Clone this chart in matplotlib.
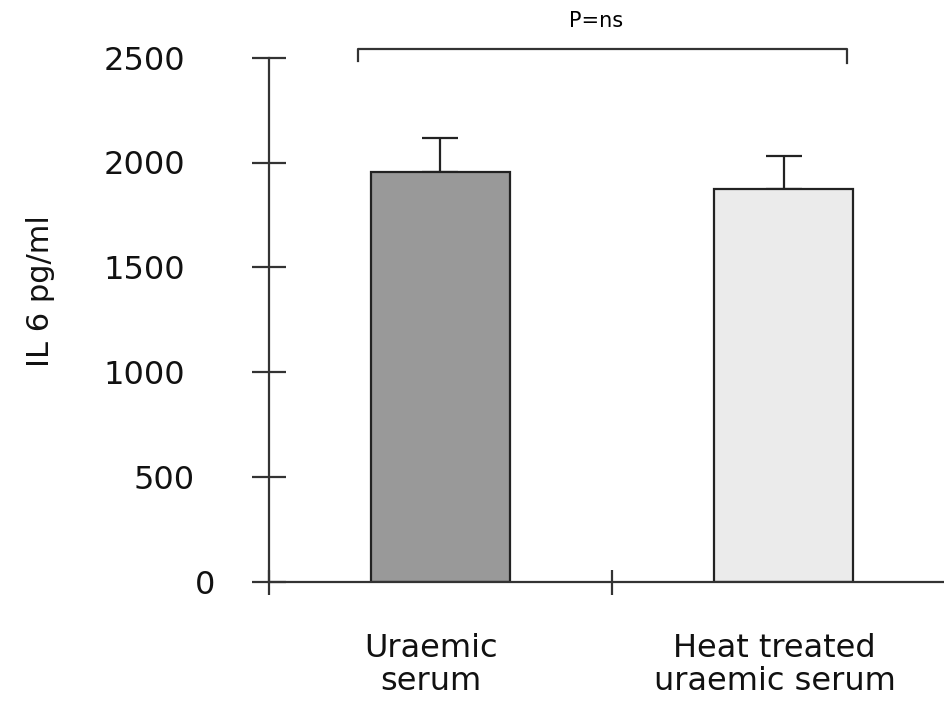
import matplotlib
matplotlib.use("Agg")
import matplotlib.pyplot as plt
from matplotlib.transforms import ScaledTranslation

# ---- data ----
categories = ["Uraemic\nserum", "Heat treated\nuraemic serum"]
means = [1956, 1872]
sems = [162, 160]
bar_colors = ["#999999", "#ebebeb"]
y_ticks = [0, 500, 1000, 1500, 2000, 2500]
y_tick_labels = ["0", "500", "1000", "1500", "2000", "2500"]
sig_label = "P=ns"
bracket_y = 2540
bracket_x = [0.26, 1.685]
bracket_ends = [2485, 2477]
ylabel = "IL 6 pg/ml"

plt.rcParams["font.family"] = ["DejaVu Sans"]

fig = plt.figure(figsize=(9.44, 7.04), dpi=100)
ax = fig.add_axes([268.75 / 944, 122.3 / 704, (944 - 268.75) / 944, (581.7 - 57.7) / 704])

positions = [0.5, 1.5]
line_c = "#222222"
ax.bar(positions, means, width=0.405, color=bar_colors, edgecolor=line_c,
       linewidth=1.6, zorder=2)
ax.errorbar(positions, means, yerr=[[0, 0], sems], fmt="none", ecolor=line_c,
            elinewidth=1.6, capsize=13.3, capthick=1.6, zorder=1)

ax.set_xlim(0, (944 - 268.75) / 343.25)
ax.set_ylim(0, 2500)

for s in ["top", "right"]:
    ax.spines[s].set_visible(False)
for s in ["left", "bottom"]:
    ax.spines[s].set_linewidth(1.6)
    ax.spines[s].set_color("#333333")

# y ticks
ax.set_yticks(y_ticks)
ax.set_yticklabels(y_tick_labels, fontsize=23, color="#111111")
ax.tick_params(axis="y", direction="inout", length=24.5, width=1.6, color="#333333", pad=48)
# quirky label positions of the original
offsets_px = {"0": 30, "500": 10}
for lab in ax.get_yticklabels():
    dx = offsets_px.get(lab.get_text(), 0)
    if dx:
        lab.set_transform(lab.get_transform() + ScaledTranslation(dx / 100, 0, fig.dpi_scale_trans))

# x major ticks (boundaries) and minor ticks for category labels
ax.set_xticks([0, 1])
ax.set_xticklabels(["", ""])
ax.tick_params(axis="x", which="major", direction="inout", length=18, width=1.6, color="#333333")
ax.set_xticks(positions, minor=True)
ax.set_xticklabels(categories, minor=True, fontsize=23, linespacing=1.1, color="#111111")
ax.tick_params(axis="x", which="minor", length=0, pad=37)
for lab in ax.get_xticklabels(minor=True):
    lab.set_transform(lab.get_transform() + ScaledTranslation(-9 / 100, 0, fig.dpi_scale_trans))

# significance bracket
ax.plot([bracket_x[0], bracket_x[0], bracket_x[1], bracket_x[1]],
        [bracket_ends[0], bracket_y, bracket_y, bracket_ends[1]],
        color="#333333", linewidth=1.6, clip_on=False)
ax.text(0.955, 2675, sig_label, ha="center", va="center",
        fontsize=15, clip_on=False)

fig.text(41 / 944, 1 - 291 / 704, ylabel, rotation=90, ha="center", va="center",
         fontsize=22, color="#111111")

fig.savefig("out.png", dpi=100)
